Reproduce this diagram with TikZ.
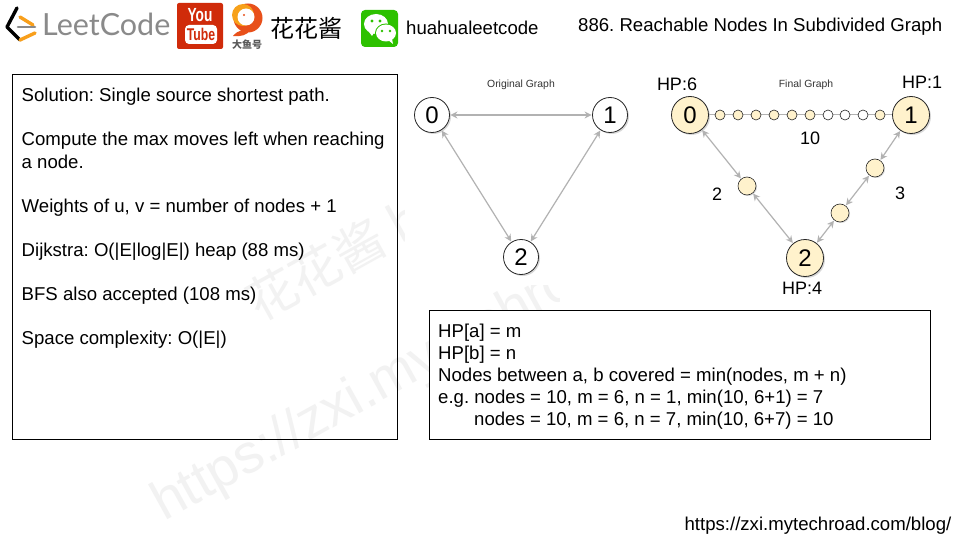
\documentclass[tikz,border=0pt]{standalone}
\usepackage{fontspec}
\setmainfont{Liberation Sans}
\newfontfamily\cjk{Noto Sans CJK SC}
\newfontfamily\logofont{Lato}
\frenchspacing
\usetikzlibrary{arrows.meta}
\definecolor{goldc}{HTML}{FFF2CC}
\definecolor{edgec}{HTML}{B2B2B2}
\definecolor{ytred}{HTML}{D02B0A}
\definecolor{wxgreen}{HTML}{2DC100}
\definecolor{lcgray}{HTML}{8A8A8A}
\definecolor{lcorange}{HTML}{F89F1B}
\definecolor{fishred}{HTML}{E8501A}
\definecolor{fishor}{HTML}{F7A11A}
\tikzset{
 x=1pt,y=-1pt,
 boxline/.style={draw=black,line width=1pt},
 txt/.style={anchor=base west,inner sep=0pt,font=\fontsize{18.6}{18.6}\selectfont},
 bignode/.style={circle,draw=black!85,line width=0.8pt,fill=white,minimum size=35pt,inner sep=0pt,font=\fontsize{24}{24}\selectfont,
   preaction={fill=black!25,opacity=.6,transform canvas={xshift=1.5pt,yshift=-1.5pt}}},
 goldnode/.style={bignode,fill=goldc,minimum size=37pt},
 midnode/.style={circle,draw=black!85,line width=0.6pt,fill=goldc,minimum size=18pt,inner sep=0pt,
   preaction={fill=black!25,opacity=.6,transform canvas={xshift=1pt,yshift=-1pt}}},
 smallnode/.style={circle,draw=black!85,line width=0.6pt,fill=goldc,minimum size=10pt,inner sep=0pt},
 smallw/.style={smallnode,fill=white},
 edgeline/.style={draw=edgec,line width=1.2pt,{Stealth[length=7pt,width=7pt]}-{Stealth[length=7pt,width=7pt]},shorten >=0.5pt,shorten <=0.5pt},
 lbl/.style={font=\fontsize{18}{18}\selectfont,inner sep=0pt},
 captxt/.style={font=\fontsize{10.4}{10.4}\selectfont,inner sep=0pt,text=black!80},
 wm/.style={text=black!5,rotate=29,anchor=base west,inner sep=0pt},
}
\begin{document}
\begin{tikzpicture}
\useasboundingbox (0,0) rectangle (960,540);
\fill[white] (0,0) rectangle (960,540);
% watermark
\node[wm,font=\cjk\fontsize{50}{50}\selectfont] (wm1) at (259,323) {花花酱 h};
\node[wm,font=\fontsize{55}{55}\selectfont] (wm2) at (164,522) {https://zxi.mytechroad.com/blog/};
\fill[white] (405,60) rectangle (960,285);
\fill[white] (429.5,310.5) rectangle (930.5,439.5);
\fill[white] (560,285) rectangle (960,540);
% logo row
\draw[black,line width=3.4pt,line cap=round,line join=round] (17,8) -- (7,27) -- (20,40);
\draw[lcorange,line width=3.4pt,line cap=round] (20,40) -- (35,33);
\draw[lcorange,line width=3.4pt,line cap=round] (20,17) -- (33,25);
\draw[lcgray,line width=2.6pt,line cap=round] (18,27) -- (35,27);
\node[anchor=base west,inner sep=0pt,text=lcgray,font=\logofont\fontsize{30.5}{30.5}\selectfont] (lc) at (42,36) {LeetCode};
\fill[ytred,rounded corners=2pt] (177,3) rectangle (223,49);
\node[text=white,inner sep=0pt,xscale=.72,font=\bfseries\fontsize{19}{19}\selectfont] (yt1) at (200,15) {You};
\fill[white,rounded corners=4pt] (185,25) rectangle (217,44);
\node[text=ytred,inner sep=0pt,xscale=.72,font=\bfseries\fontsize{17}{17}\selectfont] (yt2) at (201,34.5) {Tube};
% fish logo
\fill[fishred] (248,18) circle (14.5pt);
\fill[fishor] (243,15) circle (11pt);
\fill[white] (246,17) circle (8.5pt);
\fill[fishred] (233,36) .. controls (238,30) and (244,29) .. (250,30) .. controls (248,35) and (240,37) .. (233,36) -- cycle;
\fill[fishred] (244,15) circle (1.2pt);
\node[inner sep=0pt,text=black!65,font=\cjk\bfseries\fontsize{10}{10}\selectfont] (dy) at (247,45) {大鱼号};
\node[anchor=base west,inner sep=0pt,font=\cjk\fontsize{24}{24}\selectfont] (hh) at (270,38) {花花酱};
\fill[wxgreen,rounded corners=4pt] (361,10) rectangle (398,47);
\fill[white] (376,24) ellipse[x radius=12pt,y radius=10pt];
\fill[white] (369,32) -- (372,36) -- (375,31) -- cycle;
\fill[wxgreen] (386,33) ellipse[x radius=11pt,y radius=9.5pt];
\fill[white] (386,33) ellipse[x radius=10pt,y radius=8.5pt];
\fill[white] (392,39) -- (393,44) -- (388,40) -- cycle;
\fill[wxgreen] (372,21) circle (1.6pt) (380,21) circle (1.6pt) (382,31) circle (1.3pt) (390,31) circle (1.3pt);
\node[txt] (wx) at (406,35) {huahualeetcode};
\node[txt] (title) at (578,32) {886. Reachable Nodes In Subdivided Graph};
\node[txt,anchor=base east] (url) at (951.5,530) {https://zxi.mytechroad.com/blog/};
% left box
\draw[boxline] (12.5,74.5) rectangle (397.5,439.5);
\node[txt] (t1) at (21.5,102) {Solution: Single source shortest path.};
\node[txt] (t2) at (21.5,146) {Compute the max moves left when reaching};
\node[txt] (t3) at (21.5,168) {a node.};
\node[txt] (t4) at (21.5,212) {Weights of u, v = number of nodes + 1};
\node[txt] (t5) at (21.5,256) {Dijkstra: O(|E|log|E|) heap (88 ms)};
\node[txt] (t6) at (21.5,300) {BFS also accepted (108 ms)};
\node[txt] (t7) at (21.5,344) {Space complexity: O(|E|)};
% right box
\draw[boxline] (429.5,310.5) rectangle (930.5,439.5);
\node[txt] (r1) at (438,337) {HP[a] = m};
\node[txt] (r2) at (438,359) {HP[b] = n};
\node[txt] (r3) at (438,381) {Nodes between a, b covered = min(nodes, m + n)};
\node[txt] (r4) at (438,403) {e.g. nodes = 10, m = 6, n = 1, min(10, 6+1) = 7};
\node[txt] (r5) at (474,425) {nodes = 10, m = 6, n = 7, min(10, 6+7) = 10};
% original graph
\node[captxt] (c1) at (521,84.5) {Original Graph};
\node[bignode] (a0) at (432,115) {0};
\node[bignode] (a1) at (610,115) {1};
\node[bignode] (a2) at (521,257) {2};
\draw[edgeline] (a0) -- (a1);
\draw[edgeline] (a0) -- (a2);
\draw[edgeline] (a1) -- (a2);
% final graph
\node[captxt] (c2) at (806,84.5) {Final Graph};
\node[goldnode] (b0) at (690,115) {0};
\node[goldnode] (b1) at (911,115) {1};
\node[goldnode] (b2) at (805,258) {2};
\draw[draw=edgec,line width=1pt] (b0) -- (b1);
\foreach \n/\xx/\st in {1/720/smallnode,2/738/smallnode,3/756/smallnode,4/774/smallnode,5/792/smallnode,6/810/smallnode,7/828/smallw,8/845/smallw,9/863/smallw,10/880/smallnode}
  \node[\st] (s\n) at (\xx,115) {};
\node[midnode] (m1) at (747,186) {};
\node[midnode] (m2) at (875,168) {};
\node[midnode] (m3) at (840,213) {};
\draw[edgeline] (b0) -- (m1);
\draw[edgeline] (m1) -- (b2);
\draw[edgeline] (b1) -- (m2);
\draw[edgeline] (m2) -- (m3);
\draw[edgeline] (m3) -- (b2);
\node[lbl] (h0) at (677,84) {HP:6};
\node[lbl] (h1) at (922,82) {HP:1};
\node[lbl] (h2) at (802,288) {HP:4};
\node[lbl] (n10) at (810,138) {10};
\node[lbl] (n2) at (717,194) {2};
\node[lbl] (n3) at (900,193) {3};
\end{tikzpicture}
\end{document}
